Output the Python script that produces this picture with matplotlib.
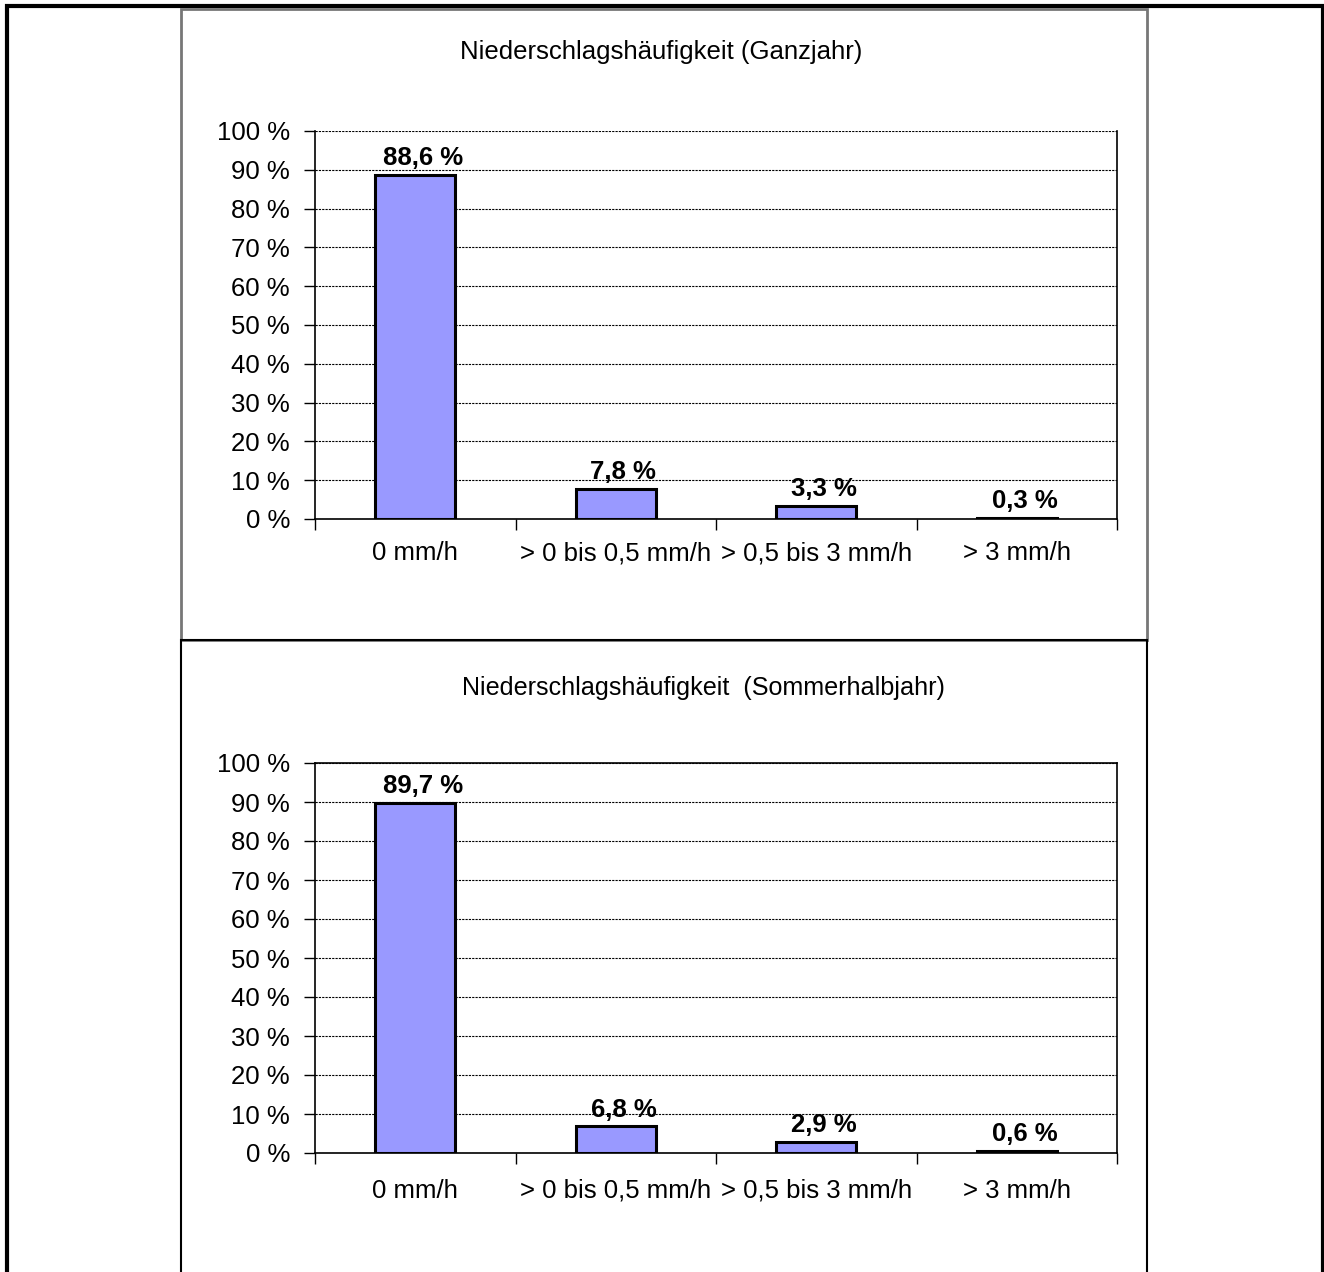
import matplotlib
matplotlib.use("Agg")
import matplotlib.pyplot as plt
from matplotlib.patches import Rectangle

plt.rcParams['font.family'] = ['Liberation Sans', 'DejaVu Sans']

categories = ["0 mm/h", "> 0 bis 0,5 mm/h", "> 0,5 bis 3 mm/h", "> 3 mm/h"]
values_year = [88.6, 7.8, 3.3, 0.3]
values_summer = [89.7, 6.8, 2.9, 0.6]
labels_year = ["88,6 %", "7,8 %", "3,3 %", "0,3 %"]
labels_summer = ["89,7 %", "6,8 %", "2,9 %", "0,6 %"]
yticks = [0, 10, 20, 30, 40, 50, 60, 70, 80, 90, 100]
ytick_labels = [f"{v} %" for v in yticks]
title_year = "Niederschlagshäufigkeit (Ganzjahr)"
title_summer = "Niederschlagshäufigkeit  (Sommerhalbjahr)"

W, H = 1324, 1272
fig = plt.figure(figsize=(W / 100, H / 100), dpi=100)


def px(x, y):
    return x / W, 1 - y / H


def draw(ax, vals, labs, top_solid, xpad):
    x = list(range(len(vals)))
    ax.bar(x, vals, width=0.4, color="#9999FF", edgecolor="black", linewidth=2.2, zorder=3)
    for xi, v, l in zip(x, vals, labs):
        ax.annotate(l, (xi, v), xytext=(5.5, 3.5), textcoords="offset points",
                    ha="center", va="bottom", fontsize=18.5, fontweight="bold", zorder=4)
    ax.set_xlim(-0.5, 3.5)
    ax.set_ylim(0, 100)
    ax.set_yticks(yticks)
    ax.set_yticklabels(ytick_labels, fontsize=18.5)
    ax.set_xticks(x)
    ax.set_xticklabels(categories, fontsize=18.5)
    ax.set_xticks([-0.5, 0.5, 1.5, 2.5, 3.5], minor=True)
    ax.tick_params(axis="x", which="major", length=0, pad=xpad)
    ax.tick_params(axis="x", which="minor", length=8, width=1, direction="out")
    ax.tick_params(axis="y", length=8, width=1, pad=10)
    ax.yaxis.grid(True, linestyle=(0, (2, 1)), color="black", linewidth=0.8, zorder=0)
    ax.set_axisbelow(True)
    for s in ["left", "right", "bottom"]:
        ax.spines[s].set_linewidth(1.2)
        ax.spines[s].set_color("black")
    ax.spines["top"].set_visible(top_solid)
    ax.spines["top"].set_linewidth(1.2)


l, b = px(315, 519)
r, t = px(1117, 131)
ax1 = fig.add_axes([l, b, r - l, t - b])
draw(ax1, values_year, labels_year, False, 16)

l, b = px(315, 1153)
r, t = px(1117, 763)
ax2 = fig.add_axes([l, b, r - l, t - b])
draw(ax2, values_summer, labels_summer, True, 18.5)

fx, fy = px(661, 52)
fig.text(fx, fy, title_year, ha="center", va="center", fontsize=18.5)
fx, fy = px(703, 688)
fig.text(fx, fy, title_summer, ha="center", va="center", fontsize=18.1)


def rect(x0, y0, x1, y1, color, lw):
    a, bb = px(x0, y1)
    c, d = px(x1, y0)
    fig.add_artist(Rectangle((a, bb), c - a, d - bb, transform=fig.transFigure,
                             fill=False, edgecolor=color, linewidth=lw))


rect(7, 6, 1323, 1290, "black", 3)
rect(181, 9, 1147, 640, "#777777", 2)
rect(181, 640, 1147, 1290, "black", 1.5)

fig.savefig("out.png", dpi=100)
